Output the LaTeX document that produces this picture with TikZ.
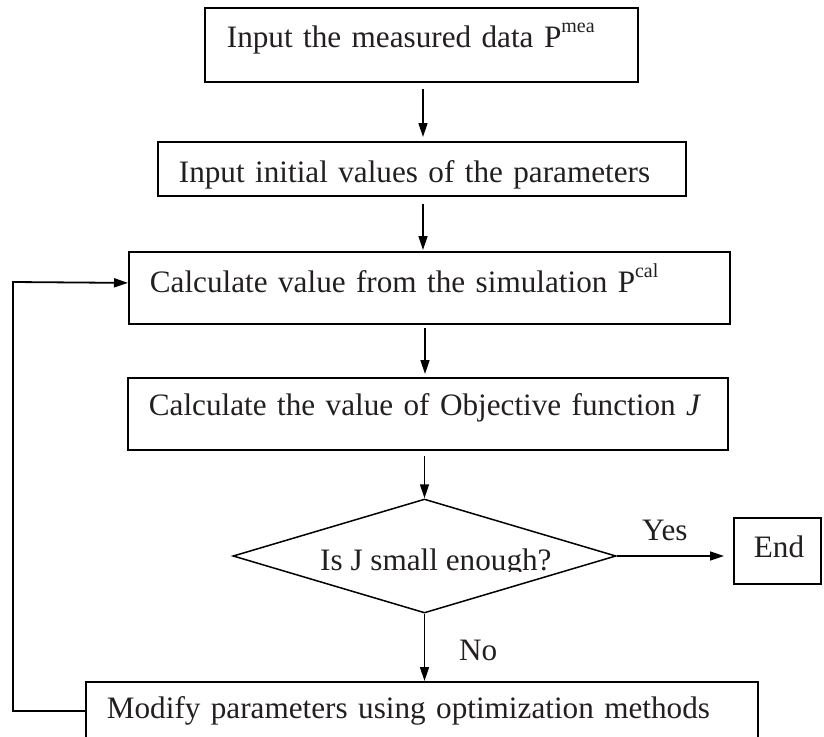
\documentclass[tikz,border=0pt]{standalone}
\usepackage{fontspec}
\setmainfont{Liberation Serif}
\usetikzlibrary{arrows.meta,shapes.geometric}
\definecolor{ink}{HTML}{231F20}
% raised superscript as set in the boxes
\newcommand\upidx[1]{\raisebox{15pt}{\fontsize{20}{22}\selectfont #1}}
\begin{document}
\begin{tikzpicture}[x=1pt,y=-1pt,
  font=\fontsize{31.2}{36}\selectfont, text=ink,
  stepbox/.style={draw=black, line width=1.8pt, rectangle, inner sep=0pt,
    align=left, anchor=north west},
  flow/.style={draw=black, line width=1.5pt, -{Triangle[length=14pt,width=9pt]}},
  lbl/.style={anchor=base west, inner sep=0pt}]
\clip (0,0) rectangle (824,736);

% process boxes (width = text width, text indented from the left edge)
\node[stepbox, text width=433pt, text height=40pt, text depth=34pt]
  (b1) at (204,7) {\hspace*{22pt}Input the measured data P\upidx{mea}};
\node[stepbox, text width=528pt, text height=41pt, text depth=13pt]
  (b2) at (157,141) {\hspace*{21pt}Input initial values of the parameters};
\node[stepbox, text width=601pt, text height=41pt, text depth=31pt]
  (b3) at (128,251) {\hspace*{21pt}Calculate value from the simulation P\upidx{cal}};
\node[stepbox, text width=600pt, text height=38pt, text depth=34pt]
  (b4) at (127,377) {\hspace*{21pt}Calculate the value of Objective function \textit{J}};
\node[stepbox, text width=87pt, text height=40pt, text depth=26pt]
  (end) at (733,517) {\hspace*{20pt}End};
\node[stepbox, text width=672pt, text height=37pt, text depth=21pt]
  (b7) at (85,681) {\hspace*{21pt}Modify parameters using optimization methods};

% decision
\node[draw=black, diamond, line width=1.5pt, minimum width=383pt,
  minimum height=114pt, inner sep=0pt] (dec) at (424.5,556) {};
\begin{scope}
  \clip (300,530) rectangle (580,571);
  \node[lbl] (q) at (320,570) {Is J small enough?};
\end{scope}

% connectors
\draw[flow, shorten <=6pt, shorten >=4pt] (b1.south -| 423,0) -- (b2.north -| 423,0);
\draw[flow, shorten <=7pt, shorten >=1pt] (b2.south -| 423,0) -- (b3.north -| 423,0);
\draw[flow, shorten <=3pt, shorten >=3pt] (b3.south -| 425,0) -- (b4.north -| 425,0);
\draw[flow, shorten <=5pt] (b4.south -| dec.north) -- (dec.north);
\draw[flow, shorten >=9pt] (dec.east) -- (end.west |- dec.east);
\node[lbl] (yes) at (642,540) {Yes};
\draw[flow] (dec.south) -- (b7.north -| dec.south);
\node[lbl] (no) at (459,660) {No};

% feedback loop
\coordinate (lp) at (13,282);
\draw[flow, line width=1.8pt] (b7.west) -| (lp) -- ([yshift=5pt]b3.west);
\end{tikzpicture}
\end{document}
